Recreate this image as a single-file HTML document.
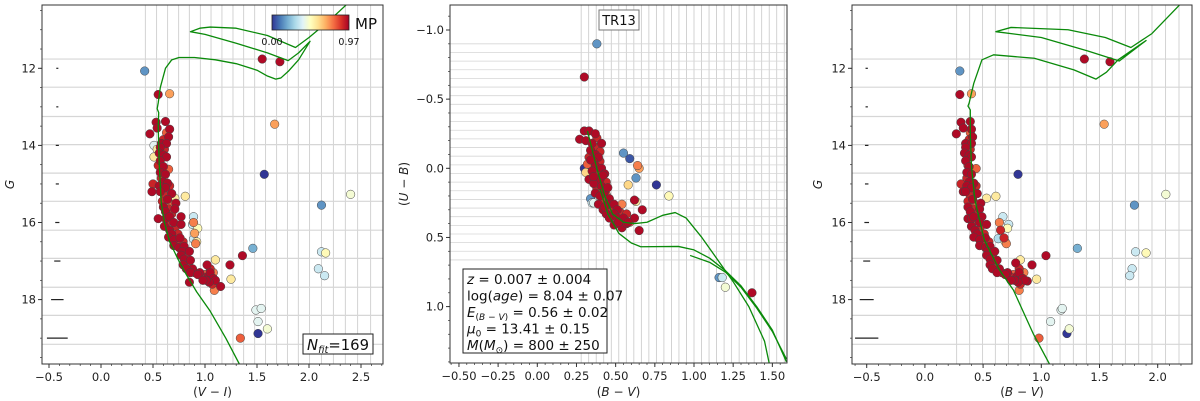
<!DOCTYPE html>
<html><head><meta charset="utf-8"><style>
body{margin:0;background:#fff;}
svg{display:block;font-family:"DejaVu Sans","Liberation Sans",sans-serif;}
</style></head><body>
<svg id="fig" width="1200" height="401" viewBox="0 0 1200 401" xmlns="http://www.w3.org/2000/svg">
<defs>
<linearGradient id="cmap" x1="0" x2="1" y1="0" y2="0">
<stop offset="0" stop-color="#313695"/><stop offset="0.1" stop-color="#4575b4"/><stop offset="0.2" stop-color="#74add1"/><stop offset="0.3" stop-color="#abd9e9"/><stop offset="0.4" stop-color="#e0f3f8"/><stop offset="0.5" stop-color="#ffffbf"/><stop offset="0.6" stop-color="#fee090"/><stop offset="0.7" stop-color="#fdae61"/><stop offset="0.8" stop-color="#f46d43"/><stop offset="0.9" stop-color="#d73027"/><stop offset="1" stop-color="#a50026"/>
</linearGradient>
</defs>
</svg>
<script>
// ---------- DATA ----------
const p1Stars = [[0.42,12.07,0.15],[0.55,12.68,0.95],[0.66,12.66,0.7],[1.55,11.76,0.95],[1.72,11.83,0.95],[1.67,13.45,0.7],[1.57,14.75,0.0],[2.40,15.27,0.45],[2.12,15.55,0.15],[1.46,16.67,0.2],[2.12,16.76,0.35],[2.16,16.79,0.5],[2.09,17.2,0.35],[2.15,17.38,0.35],[1.36,16.86,0.95],[1.24,17.1,0.95],[1.10,16.97,0.55],[1.25,17.47,0.55],[1.15,17.66,0.95],[1.09,17.76,0.75],[0.85,17.55,0.95],[1.49,18.27,0.4],[1.54,18.23,0.4],[1.51,18.57,0.4],[1.60,18.76,0.45],[1.51,18.88,0.0],[1.34,19.0,0.8],[0.81,15.32,0.55],[0.71,15.37,0.55],[0.89,15.85,0.35],[0.88,16.05,0.35],[0.89,16.0,0.75],[0.93,16.15,0.5],[0.90,16.28,0.7],[0.89,16.43,0.35],[0.92,16.5,0.55],[0.91,16.55,0.75],[0.51,14.0,0.4],[0.51,14.3,0.55],[0.54,14.1,0.55],
[0.47,13.7,0.95],[0.53,13.4,0.95],[0.54,13.55,0.95],[0.62,13.38,0.95],[0.66,13.58,0.95],[0.63,13.67,0.8],[0.65,13.78,0.95],[0.60,13.85,0.9],[0.58,13.95,0.95],[0.63,13.95,0.95],[0.57,14.05,0.95],[0.61,14.1,0.9],[0.56,14.2,0.95],[0.60,14.25,0.95],[0.63,14.3,0.95],[0.57,14.4,0.95],[0.55,14.52,0.9],[0.60,14.55,0.95],[0.65,14.62,0.8],[0.57,14.7,0.95],[0.62,14.75,0.95],[0.58,14.85,0.9],[0.60,14.95,0.95],[0.64,14.98,0.95],[0.50,15.0,0.9],[0.56,15.05,0.95],[0.58,15.1,0.75],[0.62,15.1,0.95],[0.66,15.05,0.9],[0.49,15.2,0.95],[0.57,15.2,0.95],[0.61,15.3,0.9],[0.68,15.25,0.95],[0.64,15.4,0.95],[0.59,15.45,0.9],[0.66,15.5,0.8],[0.72,15.5,0.95],[0.60,15.6,0.95],[0.65,15.65,0.9],[0.71,15.65,0.95],[0.62,15.72,0.95],[0.68,15.78,0.9],[0.55,15.9,0.95],[0.62,15.9,0.95],[0.66,15.85,0.95],[0.77,15.85,0.95],[0.64,16.0,0.9],[0.70,16.0,0.95],[0.61,16.1,0.95],[0.66,16.2,0.95],[0.72,16.1,0.9],[0.77,16.05,0.95],[0.68,16.3,0.95],[0.74,16.3,0.9],[0.65,16.38,0.95],[0.70,16.45,0.95],[0.76,16.4,0.95],[0.79,16.5,0.9],[0.70,16.6,0.95],[0.75,16.65,0.95],[0.80,16.62,0.95],[0.73,16.55,0.9],[0.78,16.75,0.95],[0.85,16.75,0.95],[0.82,16.85,0.9],[0.77,16.85,0.95],[0.80,16.95,0.95],[0.86,16.98,0.95],[0.84,17.1,0.9],[0.79,17.1,0.95],[0.88,17.2,0.95],[0.82,17.2,0.95],[0.86,17.3,0.95],[0.90,17.3,0.9],[0.95,17.3,0.95],[0.93,17.35,0.95],[0.97,17.4,0.9],[1.00,17.35,0.8],[1.03,17.4,0.95],[1.05,17.3,0.95],[1.02,17.1,0.95],[1.05,17.2,0.9],[1.08,17.3,0.75],[1.08,17.45,0.95],[1.10,17.5,0.95],[1.04,17.55,0.95],[1.07,17.6,0.9],[1.01,17.5,0.95],[0.98,17.5,0.95]];

const p2Stars = [[0.38,-0.90,0.15],[0.30,-0.66,0.95],[0.55,-0.11,0.15],[0.59,-0.07,0.05],[0.65,0.0,0.7],[0.64,-0.02,0.75],[0.63,0.07,0.15],[0.58,0.12,0.6],[0.76,0.12,0.0],[0.84,0.20,0.5],[0.30,0.0,0.0],[0.31,0.03,0.6],[0.34,0.22,0.15],[0.35,0.25,0.35],[0.36,0.25,0.4],[0.54,0.26,0.75],[0.62,0.23,0.95],[0.63,0.24,0.55],[0.67,0.30,0.95],[0.62,0.36,0.95],[0.59,0.39,0.8],[0.65,0.45,0.95],[0.49,0.41,0.95],[0.54,0.43,0.95],[0.57,0.40,0.95],[1.16,0.79,0.15],[1.18,0.79,0.35],[1.20,0.86,0.45],[1.37,0.90,0.95],[0.27,-0.21,0.95],
[0.30,-0.27,0.95],[0.33,-0.27,0.95],[0.37,-0.25,0.95],[0.38,-0.22,0.9],[0.31,-0.20,0.95],[0.35,-0.18,0.95],[0.38,-0.15,0.9],[0.34,-0.13,0.95],[0.37,-0.10,0.95],[0.33,-0.08,0.9],[0.39,-0.08,0.95],[0.36,-0.05,0.95],[0.40,-0.05,0.9],[0.32,-0.03,0.8],[0.37,-0.02,0.95],[0.41,0.0,0.95],[0.35,0.02,0.95],[0.38,0.04,0.9],[0.43,0.04,0.95],[0.33,0.08,0.95],[0.40,0.08,0.95],[0.44,0.10,0.9],[0.36,0.11,0.95],[0.41,0.13,0.95],[0.38,0.15,0.9],[0.43,0.17,0.95],[0.37,0.18,0.95],[0.40,0.20,0.95],[0.44,0.19,0.8],[0.46,0.22,0.95],[0.42,0.24,0.9],[0.39,0.26,0.95],[0.45,0.26,0.95],[0.49,0.26,0.95],[0.42,0.30,0.95],[0.47,0.30,0.9],[0.51,0.30,0.95],[0.44,0.33,0.95],[0.49,0.33,0.95],[0.53,0.32,0.9],[0.46,0.36,0.95],[0.51,0.36,0.95],[0.55,0.36,0.95],[0.57,0.33,0.9],[0.52,0.39,0.95],[0.58,0.39,0.95],[0.43,0.28,0.95],[0.45,0.14,0.95],[0.39,0.11,0.9],[0.36,0.06,0.95],[0.42,0.05,0.95],[0.34,-0.06,0.95],[0.40,-0.12,0.9],[0.41,-0.18,0.95]];

const p3Stars = [[0.30,12.07,0.15],[0.30,12.68,0.95],[0.40,12.66,0.7],[1.37,11.76,0.95],[1.59,11.83,0.95],[1.54,13.45,0.7],[0.80,14.75,0.0],[2.07,15.27,0.45],[1.80,15.55,0.15],[1.31,16.67,0.2],[1.81,16.76,0.35],[1.90,16.79,0.5],[1.78,17.2,0.35],[1.76,17.38,0.35],[1.04,16.86,0.95],[0.92,17.1,0.95],[0.82,16.97,0.55],[0.96,17.47,0.55],[0.88,17.52,0.95],[0.81,17.76,0.75],[0.98,19.0,0.8],[1.17,18.27,0.4],[1.18,18.23,0.4],[1.08,18.57,0.4],[1.24,18.76,0.45],[1.22,18.88,0.0],[0.53,15.37,0.55],[0.61,15.32,0.55],[0.67,15.85,0.35],[0.64,16.0,0.75],[0.72,16.05,0.35],[0.71,16.15,0.5],[0.63,16.42,0.3],[0.69,16.5,0.55],[0.70,16.55,0.75],[0.65,16.2,0.9],[0.68,16.4,0.9],
[0.27,13.7,0.95],[0.31,13.4,0.95],[0.33,13.55,0.95],[0.39,13.38,0.95],[0.40,13.58,0.95],[0.39,13.67,0.8],[0.41,13.78,0.95],[0.38,13.85,0.9],[0.35,13.95,0.95],[0.40,13.95,0.95],[0.35,14.05,0.95],[0.39,14.1,0.9],[0.34,14.2,0.95],[0.38,14.25,0.95],[0.40,14.3,0.95],[0.35,14.4,0.95],[0.37,14.52,0.9],[0.38,14.55,0.95],[0.44,14.6,0.8],[0.36,14.7,0.95],[0.40,14.75,0.95],[0.36,14.85,0.9],[0.38,14.95,0.95],[0.42,14.98,0.95],[0.31,15.0,0.9],[0.36,15.05,0.95],[0.40,15.1,0.95],[0.44,15.05,0.9],[0.33,15.2,0.95],[0.35,15.2,0.95],[0.39,15.3,0.9],[0.45,15.25,0.95],[0.41,15.4,0.95],[0.37,15.45,0.9],[0.43,15.5,0.8],[0.48,15.5,0.95],[0.37,15.6,0.95],[0.41,15.65,0.9],[0.47,15.65,0.95],[0.39,15.72,0.95],[0.44,15.78,0.9],[0.37,15.9,0.95],[0.40,15.9,0.95],[0.42,15.85,0.95],[0.49,15.85,0.95],[0.41,16.0,0.9],[0.47,16.0,0.95],[0.40,16.1,0.95],[0.43,16.2,0.95],[0.48,16.1,0.9],[0.53,16.05,0.95],[0.45,16.3,0.95],[0.51,16.3,0.9],[0.42,16.38,0.95],[0.47,16.45,0.95],[0.52,16.4,0.95],[0.55,16.5,0.9],[0.47,16.6,0.95],[0.52,16.65,0.95],[0.56,16.62,0.95],[0.50,16.55,0.9],[0.54,16.75,0.95],[0.60,16.75,0.95],[0.58,16.85,0.9],[0.53,16.85,0.95],[0.56,16.95,0.95],[0.62,16.98,0.95],[0.60,17.1,0.9],[0.56,17.1,0.95],[0.64,17.2,0.95],[0.58,17.2,0.95],[0.62,17.3,0.95],[0.66,17.3,0.9],[0.71,17.3,0.95],[0.69,17.35,0.95],[0.73,17.4,0.9],[0.76,17.35,0.8],[0.79,17.4,0.95],[0.81,17.3,0.95],[0.78,17.05,0.95],[0.81,17.2,0.9],[0.85,17.3,0.75],[0.84,17.45,0.95],[0.86,17.5,0.95],[0.80,17.55,0.95],[0.82,17.6,0.9],[0.77,17.5,0.95],[0.74,17.5,0.95]];

const p1Iso = [[1.33,19.67],[1.20,19.0],[1.05,18.3],[0.92,17.8],[0.82,17.35],[0.74,16.95],[0.66,16.5],[0.61,16.0],[0.58,15.5],[0.57,15.0],[0.56,14.5],[0.555,14.0],[0.55,13.5],[0.555,13.15],[0.54,13.05],[0.55,12.9],[0.57,12.5],[0.62,12.0],[0.68,11.78],[0.75,11.72],[0.9,11.72],[1.1,11.78],[1.3,11.88],[1.5,12.05],[1.6,12.2],[1.68,12.28],[1.73,12.25],[1.8,12.08],[1.9,11.78],[2.01,11.3],[1.9,11.6],[1.80,11.80],[1.6,11.6],[1.3,11.35],[1.0,11.12],[0.86,11.05],[0.95,10.96],[1.05,10.93],[1.3,10.96],[1.6,11.15],[1.87,11.46],[2.0,11.2],[2.2,10.75],[2.36,10.35]];
const p2IsoA = [[0.32,-0.27],[0.38,0.0],[0.43,0.2],[0.48,0.33],[0.55,0.39],[0.62,0.40],[0.70,0.39],[0.80,0.34],[0.88,0.32],[0.95,0.36],[1.05,0.5],[1.15,0.66],[1.25,0.82],[1.35,1.0],[1.45,1.25],[1.48,1.41]];
const p2IsoB = [[0.40,0.15],[0.45,0.33],[0.52,0.47],[0.6,0.54],[0.66,0.567],[0.9,0.565],[1.0,0.59],[1.1,0.65],[1.2,0.74],[1.3,0.85],[1.4,1.0],[1.5,1.17],[1.59,1.40]];
const p2IsoC = [[0.975,0.63],[1.1,0.68],[1.2,0.75],[1.3,0.86],[1.4,1.01],[1.5,1.18],[1.59,1.38]];
const p3Iso = [[1.07,19.67],[0.93,18.88],[0.76,17.75],[0.64,17.23],[0.51,16.45],[0.43,15.42],[0.40,14.55],[0.39,13.69],[0.39,13.08],[0.37,12.98],[0.38,12.9],[0.42,12.39],[0.49,11.78],[0.59,11.65],[0.94,11.74],[1.28,12.04],[1.47,12.28],[1.56,12.1],[1.66,11.78],[1.90,11.28],[1.67,11.81],[1.4,11.55],[1.0,11.2],[0.61,11.05],[0.74,10.94],[1.23,11.0],[1.55,11.2],[1.77,11.46],[1.95,11.1],[2.19,10.35]];

const p1XTicks = [-0.5,0.0,0.5,1.0,1.5,2.0,2.5];
const gYTicks = [12,14,16,18];
const p2XTicks = [-0.5,-0.25,0,0.25,0.5,0.75,1.0,1.25,1.5];
const p2YTicks = [-1.0,-0.5,0.0,0.5,1.0];
const p3XTicks = [-0.5,0.0,0.5,1.0,1.5,2.0];
const gGridY = [11.76,12.49,13.25,13.98,14.72,15.45,16.2,16.93,17.68,18.41,19.16];
const p1GridX = [0.426,0.535,0.641,0.747,0.849,0.955,1.058,1.163,1.269,1.372,1.478,1.583,1.689,1.792,1.897,2.006,2.119,2.234,2.349,2.468,2.593];
const p3GridX = [0.273,0.385,0.496,0.605,0.717,0.825,0.937,1.049,1.161,1.275,1.387,1.499,1.610,1.722,1.837,1.951,2.068,2.183];
const errG = [12,13,14,15,16,17,18,19];
const errW = [0.01,0.01,0.015,0.015,0.02,0.03,0.06,0.1];

// ---------- RENDER ----------
const svg = document.getElementById('fig');
const NS = 'http://www.w3.org/2000/svg';
function mk(tag, attrs, parent){const e=document.createElementNS(NS,tag);for(const k in attrs)e.setAttribute(k,attrs[k]);(parent||svg).appendChild(e);return e;}
const stops=['#313695','#4575b4','#74add1','#abd9e9','#e0f3f8','#ffffbf','#fee090','#fdae61','#f46d43','#d73027','#a50026'];
function hex(h){return [1,3,5].map(i=>parseInt(h.substr(i,2),16));}
function cmap(v){let t=Math.max(0,Math.min(1,v/0.97))*10;let i=Math.min(9,Math.floor(t));let f=t-i;const a=hex(stops[i]),b=hex(stops[i+1]);return 'rgb('+a.map((c,k)=>Math.round(c+(b[k]-c)*f)).join(',')+')';}
function fmt(v,d){return (v<0?'\u2212':'')+Math.abs(v).toFixed(d);}

function panel(cfg){
  const g=mk('g',{});
  
  
  const sx=v=>cfg.x0+(v-cfg.xa)*cfg.kx, sy=v=>cfg.y0+(v-cfg.ya)*cfg.ky;
  const clip=mk('clipPath',{id:cfg.name+'-clip'},g);
  mk('rect',{x:cfg.L,y:cfg.T,width:cfg.R-cfg.L,height:cfg.B-cfg.T},clip);
  const inner=mk('g',{'clip-path':'url(#'+cfg.name+'-clip)'},g);
  cfg.gridX.forEach(v=>{const l=mk('line',{x1:sx(v),x2:sx(v),y1:cfg.T,y2:cfg.B,stroke:'#c8c8c8','stroke-width':0.8},inner);
    });
  cfg.gridY.forEach(v=>{const l=mk('line',{x1:cfg.L,x2:cfg.R,y1:sy(v),y2:sy(v),stroke:'#d6d6d6','stroke-width':cfg.gridYW||1.2},inner);
    });
  if(cfg.errX!==undefined){errG.forEach((m,i)=>{const w=errW[i]*cfg.kx;const l=mk('line',{x1:sx(cfg.errX)-Math.max(1,w),x2:sx(cfg.errX)+Math.max(1,w),y1:sy(m),y2:sy(m),stroke:'#222','stroke-width':1.2},inner);
    });}
  [...cfg.stars].sort((a,b)=>a[2]-b[2]).forEach(s=>{const c=mk('circle',{cx:sx(s[0]),cy:sy(s[1]),r:4.3,fill:cmap(s[2]),stroke:'#444','stroke-width':0.5},inner);
    });
  cfg.isos.forEach(iso=>{const p=mk('polyline',{points:iso.map(q=>sx(q[0])+','+sy(q[1])).join(' '),fill:'none',stroke:'#0a8a0a','stroke-width':1.3,'stroke-linejoin':'round'},inner);
    });
  const fr=mk('rect',{x:cfg.L,y:cfg.T,width:cfg.R-cfg.L,height:cfg.B-cfg.T,fill:'none',stroke:'#333','stroke-width':1},g);
  
  cfg.xTicks.forEach(v=>{mk('line',{x1:sx(v),x2:sx(v),y1:cfg.B,y2:cfg.B+4,stroke:'#333'},g);
    const t=mk('text',{x:sx(v),y:cfg.B+17,'font-size':11.5,'text-anchor':'middle',fill:'#222'},g);t.textContent=fmt(v,cfg.xd);
    });
  for(let v=cfg.xMinorA;v<=cfg.xMinorB+1e-9;v+=cfg.xMinorS){const X=sx(v);if(X>cfg.L&&X<cfg.R)mk('line',{x1:X,x2:X,y1:cfg.B,y2:cfg.B+2,stroke:'#333','stroke-width':0.7},g);}
  cfg.yTicks.forEach(v=>{mk('line',{x1:cfg.L-4,x2:cfg.L,y1:sy(v),y2:sy(v),stroke:'#333'},g);
    const t=mk('text',{x:cfg.L-6,y:sy(v)+4,'font-size':11.5,'text-anchor':'end',fill:'#222'},g);t.textContent=fmt(v,cfg.yd);
    });
  for(let v=cfg.yMinorA;v<=cfg.yMinorB+1e-9;v+=cfg.yMinorS){const Y=sy(v);if(Y>cfg.T&&Y<cfg.B)mk('line',{x1:cfg.L-2,x2:cfg.L,y1:Y,y2:Y,stroke:'#333','stroke-width':0.7},g);}
  const xl=mk('text',{x:(cfg.L+cfg.R)/2,y:396,'font-size':12,'text-anchor':'middle',fill:'#222'},g);
  xl.innerHTML=cfg.xlabel;
  const yl=mk('text',{x:0,y:0,'font-size':12,'text-anchor':'middle',fill:'#222',transform:'translate('+cfg.ylx+','+((cfg.T+cfg.B)/2)+') rotate(-90)'},g);
  yl.innerHTML=cfg.ylabel;
  return g;
}
const it=s=>'<tspan font-style="italic">'+s+'</tspan>';
panel({name:'panel-vi-g',L:42,R:383,T:5,B:364,xa:0,x0:101,kx:104,ya:12,y0:68.3,ky:38.55,
  gridX:p1GridX,gridY:gGridY,errX:-0.42,stars:p1Stars,isos:[p1Iso],
  xTicks:p1XTicks,xd:1,xMinorA:-0.6,xMinorB:2.7,xMinorS:0.1,yTicks:gYTicks,yd:0,yMinorA:10.5,yMinorB:19.5,yMinorS:0.5,
  xlabel:'('+it('V')+' \u2212 '+it('I')+')',ylabel:it('G'),ylx:14});
panel({name:'panel-bv-ub',L:450,R:787,T:5,B:363,xa:0,x0:537.3,kx:156.7,ya:0,y0:168.3,ky:138.3,
  gridX:Array.from({length:28},(_,i)=>0.28+i*0.048),gridY:Array.from({length:26},(_,i)=>-0.90+i*0.0625),gridYW:0.8,stars:p2Stars,isos:[p2IsoA,p2IsoB,p2IsoC],
  xTicks:p2XTicks,xd:2,xMinorA:-0.55,xMinorB:1.6,xMinorS:0.05,yTicks:p2YTicks,yd:1,yMinorA:-1.1,yMinorB:1.4,yMinorS:0.1,
  xlabel:'('+it('B')+' \u2212 '+it('V')+')',ylabel:'('+it('U')+' \u2212 '+it('B')+')',ylx:408});
panel({name:'panel-bv-g',L:852,R:1192,T:5,B:364,xa:0,x0:924.9,kx:116.4,ya:12,y0:68.3,ky:38.55,
  gridX:p3GridX,gridY:gGridY,errX:-0.5,stars:p3Stars,isos:[p3Iso],
  xTicks:p3XTicks,xd:1,xMinorA:-0.6,xMinorB:2.2,xMinorS:0.1,yTicks:gYTicks,yd:0,yMinorA:10.5,yMinorB:19.5,yMinorS:0.5,
  xlabel:'('+it('B')+' \u2212 '+it('V')+')',ylabel:it('G'),ylx:822});

const cb=mk('rect',{x:272,y:15,width:77,height:15,fill:'url(#cmap)',stroke:'#222','stroke-width':0.8});

const cbl=mk('text',{x:355,y:29,'font-size':15,fill:'#111'});cbl.textContent='MP';

[['0.00',272],['0.97',349]].forEach(a=>{const t=mk('text',{x:a[1],y:45,'font-size':9.5,'text-anchor':'middle',fill:'#111'});t.textContent=a[0];
  });

mk('rect',{x:303,y:334,width:70,height:20,fill:'#fff',stroke:'#222','stroke-width':1});
const nf=mk('text',{x:307,y:350,'font-size':15,fill:'#111',textLength:62,lengthAdjust:'spacingAndGlyphs'});
nf.innerHTML='<tspan font-style="italic">N</tspan><tspan font-style="italic" font-size="10" dy="3">fit</tspan><tspan dy="-3">=169</tspan>';


mk('rect',{x:599,y:10,width:40,height:20,fill:'#fff',stroke:'#777','stroke-width':1});
const tr=mk('text',{x:619,y:25,'font-size':13,'text-anchor':'middle',fill:'#111'});tr.textContent='TR13';


const pb=mk('rect',{x:463,y:269,width:144,height:84,fill:'#fff',stroke:'#222','stroke-width':1});

const lines=['<tspan font-style="italic">z</tspan> = 0.007 \u00b1 0.004',
 'log(<tspan font-style="italic">age</tspan>) = 8.04 \u00b1 0.07',
 '<tspan font-style="italic">E</tspan><tspan font-size="9" dy="3">(<tspan font-style="italic">B</tspan> \u2212 <tspan font-style="italic">V</tspan>)</tspan><tspan dy="-3"> = 0.56 \u00b1 0.02</tspan>',
 '<tspan font-style="italic">\u03bc</tspan><tspan font-size="9" dy="3">0</tspan><tspan dy="-3"> = 13.41 \u00b1 0.15</tspan>',
 '<tspan font-style="italic">M</tspan>(<tspan font-style="italic">M</tspan><tspan font-size="9" dy="3">\u2299</tspan><tspan dy="-3">) = 800 \u00b1 250</tspan>'];
lines.forEach((h,i)=>{const t=mk('text',{x:467,y:284+i*16.5,'font-size':13.5,fill:'#111'});t.innerHTML=h;
  });
</script>
</body></html>
